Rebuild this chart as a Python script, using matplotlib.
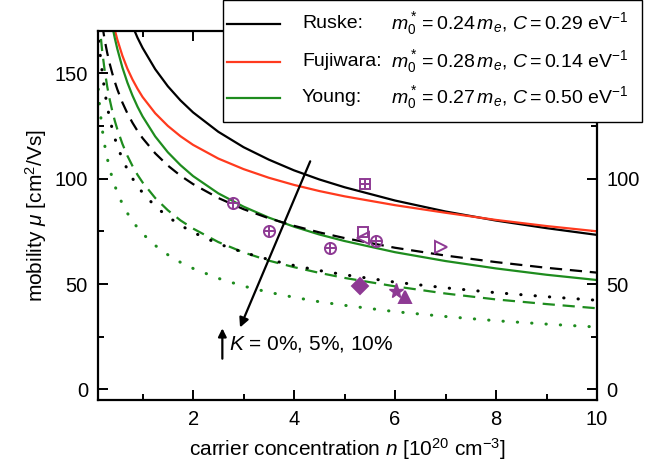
import numpy as np
import matplotlib
matplotlib.use("Agg")
import matplotlib.pyplot as plt
from matplotlib.lines import Line2D
from matplotlib.patches import Rectangle

plt.rcParams['font.family'] = ['Liberation Sans', 'DejaVu Sans']
plt.rcParams['mathtext.fontset'] = 'custom'
plt.rcParams['mathtext.rm'] = 'Liberation Sans'
plt.rcParams['mathtext.it'] = 'Liberation Sans:italic'
plt.rcParams['mathtext.bf'] = 'Liberation Sans:bold'

nan = np.nan
# carrier concentration grid [1e20 cm^-3]
n_grid = [0.1, 0.15, 0.2, 0.25, 0.3, 0.35, 0.4, 0.45, 0.5, 0.6, 0.7, 0.8, 0.9,
          1.0, 1.25, 1.5, 1.75, 2.0, 2.5, 3.0, 3.5, 4.0, 4.5, 5.0, 6.0, 7.0,
          8.0, 9.0, 10.0]

# mobility curves, K = 0%
mu_ruske = [nan, nan, nan, nan, nan, nan, nan, nan, nan, nan, 178.6, 172.4, 166.8,
            162.0, 151.9, 143.8, 137.1, 131.4, 122.2, 114.9, 109.0, 103.9, 99.6,
            95.9, 89.6, 84.4, 80.1, 76.5, 73.3]
mu_fujiwara = [nan, nan, nan, nan, nan, nan, 175.7, 170.5, 165.9, 158.3, 152.1, 147.0,
               142.6, 138.7, 131.0, 125.0, 120.1, 116.0, 109.5, 104.5, 100.4, 97.0,
               94.1, 91.6, 87.4, 83.8, 80.4, 77.5, 75.0]
mu_young = [nan, nan, nan, nan, nan, 179.2, 172.4, 166.6, 161.5, 152.7, 145.5, 139.4,
            134.1, 129.5, 120.0, 112.5, 106.4, 101.2, 93.0, 86.7, 81.5, 77.2, 73.5,
            70.4, 65.1, 60.9, 57.4, 54.4, 51.9]
# K = 5%
mu_ruske_5 = [nan, 182.6, 173.2, 165.7, 159.6, 154.4, 149.9, 145.9, 142.3, 136.1,
              130.9, 126.5, 122.6, 119.2, 112.0, 106.2, 101.4, 97.4, 90.8, 85.5,
              81.2, 77.6, 74.5, 71.8, 67.2, 63.5, 60.4, 57.7, 55.4]
mu_young_5 = [190.3, 172.8, 160.5, 151.2, 143.6, 137.4, 132.1, 127.4, 123.4, 116.5,
              110.8, 106.0, 101.8, 98.2, 90.8, 85.0, 80.2, 76.3, 69.9, 65.0, 61.1,
              58.0, 55.3, 52.9, 48.9, 45.5, 42.7, 40.5, 38.5]
# K = 10%
mu_ruske_10 = [172.0, 161.0, 150.6, 141.5, 134.3, 128.4, 123.5, 119.2, 115.5, 109.3,
               104.3, 100.1, 96.5, 93.3, 86.9, 81.9, 77.9, 74.5, 69.1, 65.0, 61.6,
               58.8, 56.4, 54.4, 50.9, 48.2, 45.9, 44.0, 42.3]
mu_young_10 = [149.2, 133.9, 123.5, 115.8, 109.7, 104.6, 100.3, 96.7, 93.4, 88.0,
               83.6, 79.9, 76.7, 73.9, 68.3, 63.9, 60.3, 57.4, 52.7, 49.0, 46.1,
               43.7, 41.6, 39.9, 36.9, 34.6, 32.6, 31.0, 29.6]

# experimental points
circ_plus_n = [2.8, 3.51, 4.72, 5.62]
circ_plus_mu = [88.4, 75.2, 67.0, 70.2]
sq_plus_n, sq_plus_mu = [5.4], [97.6]
sq_open_n, sq_open_mu = [5.37], [74.9]
tri_left_n, tri_left_mu = [5.37], [71.8]
tri_right_n, tri_right_mu = [6.92], [67.5]
diamond_n, diamond_mu = [5.3], [49.0]
star_n, star_mu = [6.02], [46.7]
tri_up_n, tri_up_mu = [6.2], [43.7]

names = ['Ruske:', 'Fujiwara:', 'Young:']
formulas = [r'$m_0^* = 0.24\,m_e$, $C = 0.29$ eV$^{-1}$',
            r'$m_0^* = 0.28\,m_e$, $C = 0.14$ eV$^{-1}$',
            r'$m_0^* = 0.27\,m_e$, $C = 0.50$ eV$^{-1}$']

black = 'black'
red = '#ff3a1e'
green = '#1e8c1e'
purple = '#8e3a94'

fig = plt.figure(figsize=(6.57, 4.66), dpi=100)
ax = fig.add_axes([0.1486, 0.1416, 0.7601, 0.7919])

lw = 1.6
dash = (0, (5.5, 3.5))
dot = (0, (0.1, 4.6))
ax.plot(n_grid, mu_ruske, color=black, lw=lw)
ax.plot(n_grid, mu_fujiwara, color=red, lw=lw)
ax.plot(n_grid, mu_young, color=green, lw=lw)
ax.plot(n_grid, mu_ruske_5, color=black, lw=lw, linestyle=dash)
ax.plot(n_grid, mu_young_5, color=green, lw=lw, linestyle=dash)
ax.plot(n_grid, mu_ruske_10, color=black, lw=2.2, linestyle=dot, dash_capstyle='round')
ax.plot(n_grid, mu_young_10, color=green, lw=2.2, linestyle=dot, dash_capstyle='round')

ms = 8
mk = dict(color=purple, linestyle='none', ms=ms, mew=1.4)
ax.plot(circ_plus_n, circ_plus_mu, marker='o', mfc='none', **mk)
ax.plot(circ_plus_n, circ_plus_mu, marker='+', **mk)
ax.plot(sq_plus_n, sq_plus_mu, marker='s', mfc='none', ms=7, color=purple, linestyle='none', mew=1.4)
ax.plot(sq_plus_n, sq_plus_mu, marker='+', ms=7, color=purple, linestyle='none', mew=1.4)
ax.plot(sq_open_n, sq_open_mu, marker='s', mfc='none', ms=7, color=purple, linestyle='none', mew=1.4)
ax.plot(tri_left_n, tri_left_mu, marker='<', mfc='none', **mk)
ax.plot(tri_right_n, tri_right_mu, marker='>', mfc='none', **mk)
ax.plot(diamond_n, diamond_mu, marker='D', **mk)
ax.plot(star_n, star_mu, marker='*', color=purple, linestyle='none', ms=11)
ax.plot(tri_up_n, tri_up_mu, marker='^', **mk)

# K arrow and label
ax.annotate('', xy=(2.93, 29.4), xytext=(4.32, 108.2),
            arrowprops=dict(arrowstyle='-|>', color='black', lw=1.6,
                            mutation_scale=14, shrinkA=0, shrinkB=0))
ax.annotate('', xy=(2.58, 29.0), xytext=(2.58, 14.6),
            arrowprops=dict(arrowstyle='-|>', color='black', lw=1.6,
                            mutation_scale=12, shrinkA=0, shrinkB=0))
ax.text(2.72, 21.7, r'$K$ = 0%, 5%, 10%', fontsize=15, va='center', ha='left')

ax.set_xlim(0.11, 10)
ax.set_ylim(-5, 170)
ax.set_xticks([2, 4, 6, 8, 10])
ax.set_xticks([1, 3, 5, 7, 9], minor=True)
ax.set_yticks([0, 50, 100, 150])
ax.set_yticks([25, 75, 125], minor=True)
ax.tick_params(which='both', direction='in', top=True, right=True,
               labelright=True, width=1.4, labelsize=14.5, pad=7)
ax.tick_params(which='major', length=7)
ax.tick_params(which='minor', length=4)
# the right-hand "150" sits under the legend box
ax.yaxis.get_major_ticks()[3].label2.set_visible(False)
for s in ax.spines.values():
    s.set_linewidth(1.6)

ax.set_xlabel(r'carrier concentration $n$ [10$^{20}$ cm$^{-3}$]', fontsize=15, labelpad=5)
ax.set_ylabel(r'mobility $\mu$ [cm$^2$/Vs]', fontsize=15, labelpad=4)

# legend box
W, H = 657, 466
fig.add_artist(Rectangle((223 / W, 1 - 122 / H), 419 / W, 122 / H,
                         transform=fig.transFigure, facecolor='white',
                         edgecolor='black', lw=1.0, zorder=10))
row_y = [24, 62, 98]
for yy, c, name, fm in zip(row_y, [black, red, green], names, formulas):
    fy = 1 - yy / H
    fig.add_artist(Line2D([227 / W, 280 / W], [fy, fy], color=c, lw=lw,
                          transform=fig.transFigure, zorder=11))
    fig.text(302 / W, fy, name, fontsize=14, va='center', ha='left', zorder=12)
    fig.text(391 / W, fy, fm, fontsize=14, va='center', ha='left', zorder=12)

fig.savefig('out.png', dpi=100)
